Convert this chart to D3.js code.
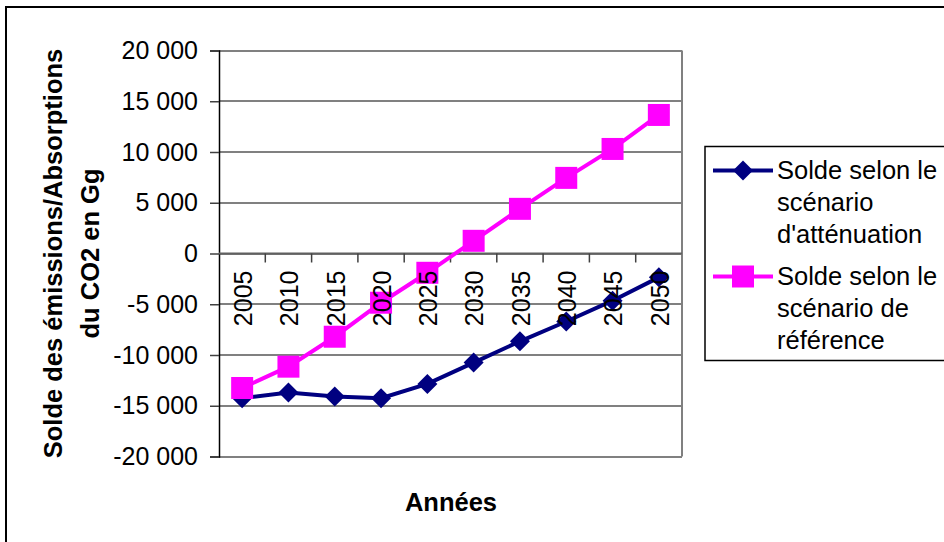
<!DOCTYPE html>
<html lang="fr">
<head>
  <meta charset="UTF-8">
  <title>Solde des émissions/Absorptions du CO2</title>
  <script src="https://cdnjs.cloudflare.com/ajax/libs/d3/7.8.5/d3.min.js"></script>
  <style>
    body { margin: 0; background: #fff; }
    svg { display: block; font-family: "Liberation Sans", Arial, sans-serif; }
    .grid line { stroke: #808080; stroke-width: 2px; shape-rendering: crispEdges; }
    .tick-lbl { font-size: 25px; fill: #000; }
    .title { font-size: 25.5px; font-weight: bold; fill: #000; }
    .leg { font-size: 25.5px; fill: #000; }
  </style>
</head>
<body>
  <svg width="944" height="542"></svg>
  <script>
    // années (catégories)
    var years = ['2005', '2010', '2015', '2020', '2025', '2030', '2035', '2040', '2045', '2050']
    // solde selon le scénario d'atténuation (Gg)
    var attenuation = [-14250, -13700, -14100, -14250, -12850, -10750, -8650, -6700, -4650, -2350]
    // solde selon le scénario de référence (Gg)
    var reference = [-13250, -11150, -8200, -4850, -1900, 1250, 4400, 7450, 10300, 13650]
    var yTicks = [-20000, -15000, -10000, -5000, 0, 5000, 10000, 15000, 20000]
    var legendLines = [
      ['Solde selon le', 'scénario', "d'atténuation"],
      ['Solde selon le', 'scénario de', 'référence']
    ]

    var svg = d3.select('svg')
    // zone de tracé
    var pLeft = 219, pRight = 682, pTop = 50.5, pBottom = 456.5

    var x = d3.scaleBand().domain(years).range([pLeft, pRight]).padding(0)
    var y = d3.scaleLinear().domain([-20000, 20000]).range([pBottom, pTop])
    var cx = d => x(d) + x.bandwidth() / 2
    // format français : espace pour les milliers, tiret simple pour le signe moins
    var fr = d3.formatLocale({ decimal: ',', thousands: ' ', grouping: [3], currency: ['', ''], minus: '-' })
    var fmt = fr.format(',')

    // cadre extérieur
    svg.append('rect')
      .attr('x', 6).attr('y', 7).attr('width', 960).attr('height', 560)
      .attr('fill', 'none').attr('stroke', '#000').attr('stroke-width', 2)

    // quadrillage
    svg.append('g').attr('class', 'grid')
      .selectAll('line').data(yTicks).join('line')
      .attr('x1', pLeft).attr('x2', pRight)
      .attr('y1', d => y(d)).attr('y2', d => y(d))
    svg.append('line')
      .attr('x1', pRight).attr('x2', pRight).attr('y1', pTop).attr('y2', pBottom)
      .attr('stroke', '#808080').attr('stroke-width', 2)

    // axe Y
    var yAxis = svg.append('g')
      .attr('transform', `translate(${pLeft},0)`)
      .call(d3.axisLeft(y).tickValues(yTicks).tickSize(9).tickPadding(12).tickFormat(fmt))
    yAxis.attr('font-size', null).attr('font-family', null)
    yAxis.select('.domain').attr('stroke', '#000').attr('stroke-width', 1.5)
    yAxis.selectAll('.tick line').attr('stroke', '#404040').attr('stroke-width', 1.5)
    yAxis.selectAll('.tick text').attr('class', 'tick-lbl')

    // axe X (à zéro), graduations entre catégories
    svg.append('line')
      .attr('x1', pLeft).attr('x2', pRight).attr('y1', y(0)).attr('y2', y(0))
      .attr('stroke', '#606060').attr('stroke-width', 2)
    svg.append('g').selectAll('line').data(years.slice(1)).join('line')
      .attr('x1', d => x(d)).attr('x2', d => x(d))
      .attr('y1', y(0)).attr('y2', y(0) + 9)
      .attr('stroke', '#404040').attr('stroke-width', 1.5)

    // séries
    var line = d3.line().x((d, i) => cx(years[i])).y(d => y(d))
    var diamond = d3.symbol(d3.symbolSquare, 200)
    var square = d3.symbol(d3.symbolSquare, 484)

    svg.append('path').datum(attenuation)
      .attr('d', line).attr('fill', 'none').attr('stroke', '#000080').attr('stroke-width', 4)
    svg.append('g').selectAll('path').data(attenuation).join('path')
      .attr('d', diamond)
      .attr('transform', (d, i) => `translate(${cx(years[i])},${y(d)}) rotate(45)`)
      .attr('fill', '#000080')

    svg.append('path').datum(reference)
      .attr('d', line).attr('fill', 'none').attr('stroke', '#ff00ff').attr('stroke-width', 4)
    svg.append('g').selectAll('path').data(reference).join('path')
      .attr('d', square)
      .attr('transform', (d, i) => `translate(${cx(years[i])},${y(d)})`)
      .attr('fill', '#ff00ff')

    // étiquettes des années (verticales)
    svg.append('g').selectAll('text').data(years).join('text')
      .attr('class', 'tick-lbl')
      .attr('transform', d => `translate(${cx(d) + 1},${y(0) + 17}) rotate(-90)`)
      .attr('text-anchor', 'end')
      .attr('dy', '0.35em')
      .text(d => d)

    // titres des axes
    svg.append('text').attr('class', 'title')
      .attr('x', 451).attr('y', 511).attr('text-anchor', 'middle')
      .text('Années')
    var yTitle = ['Solde des émissions/Absorptions', 'du CO2 en Gg']
    svg.append('g').selectAll('text').data(yTitle).join('text')
      .attr('class', 'title')
      .attr('transform', (d, i) => `translate(${53 + i * 37},${(pTop + pBottom) / 2}) rotate(-90)`)
      .attr('text-anchor', 'middle')
      .attr('dy', '0.35em')
      .text(d => d)

    // légende
    var leg = svg.append('g')
    leg.append('rect')
      .attr('x', 705).attr('y', 146.5).attr('width', 300).attr('height', 214)
      .attr('fill', '#fff').attr('stroke', '#000').attr('stroke-width', 1.5)
    var legColors = ['#000080', '#ff00ff']
    var legSyms = [diamond, square]
    legendLines.forEach((lines, k) => {
      var ly = 170.5 + k * 106
      leg.append('line')
        .attr('x1', 713).attr('x2', 773).attr('y1', ly).attr('y2', ly)
        .attr('stroke', legColors[k]).attr('stroke-width', 4)
      leg.append('path')
        .attr('d', legSyms[k])
        .attr('transform', `translate(743,${ly})` + (k === 0 ? ' rotate(45)' : ''))
        .attr('fill', legColors[k])
      lines.forEach((t, j) => {
        leg.append('text').attr('class', 'leg')
          .attr('x', 777).attr('y', ly + j * 32).attr('dy', '0.35em')
          .text(t)
      })
    })
  </script>
</body>
</html>
